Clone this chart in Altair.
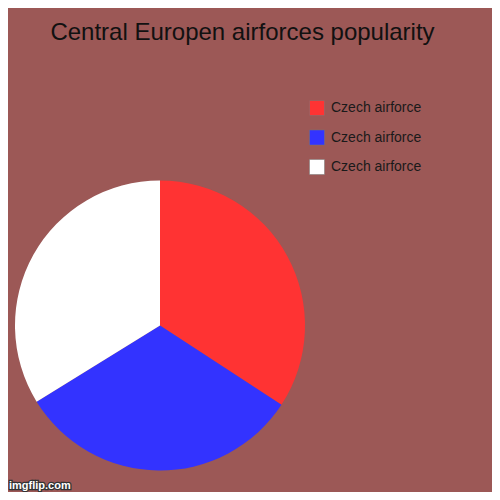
import altair as alt
import pandas as pd

title_text = ["Central Europen airforces popularity"]
labels = ["Czech airforce", "Czech airforce", "Czech airforce"]
values = [34.2, 32.0, 33.8]
colors = ["#ff3333", "#3333ff", "#ffffff"]
watermark = ["imgflip.com"]

df = pd.DataFrame({"idx": [0, 1, 2], "label": labels, "value": values})

label_expr = "[" + ",".join("'%s'" % l for l in labels) + "][datum.value]"

pie = alt.Chart(df).mark_arc(outerRadius=145, stroke=None).encode(
    theta=alt.Theta("value:Q", stack=True),
    color=alt.Color(
        "idx:O",
        scale=alt.Scale(domain=[0, 1, 2], range=colors),
        legend=alt.Legend(
            title=None,
            orient="none",
            legendX=301,
            legendY=92,
            symbolType="square",
            symbolSize=225,
            symbolStrokeColor="#777777",
            symbolStrokeWidth=0.5,
            labelExpr=label_expr,
            labelFont="Liberation Sans",
            labelFontSize=14,
            labelColor="#1a1a1a",
            labelOffset=6,
            rowPadding=11.5,
            padding=0,
        ),
    ),
    order=alt.Order("idx:O"),
    x=alt.value(152),
    y=alt.value(317.5),
)

title_df = pd.DataFrame({"t": title_text})
title = alt.Chart(title_df).mark_text(
    font="Liberation Sans", fontSize=24, align="center", baseline="alphabetic",
    color="#111111",
).encode(text="t:N", x=alt.value(234.5), y=alt.value(32))

wm_df = pd.DataFrame({"t": watermark})
wm_outline = alt.Chart(wm_df).mark_text(
    font="Liberation Sans", fontSize=11, fontWeight="bold", align="left",
    baseline="alphabetic", fill="#333333", stroke="#333333", strokeWidth=2.5,
).encode(text="t:N", x=alt.value(1), y=alt.value(481))
wm_fill = alt.Chart(wm_df).mark_text(
    font="Liberation Sans", fontSize=11, fontWeight="bold", align="left",
    baseline="alphabetic", fill="#ffffff",
).encode(text="t:N", x=alt.value(1), y=alt.value(481))

chart = alt.layer(pie, title, wm_outline, wm_fill).properties(
    width=484,
    height=484,
    padding=0,
    autosize=alt.AutoSizeParams(type="none"),
    background="#9c5856",
).configure_view(stroke=None)

chart.save("out.html", embed_options={"renderer": "svg", "actions": False})
